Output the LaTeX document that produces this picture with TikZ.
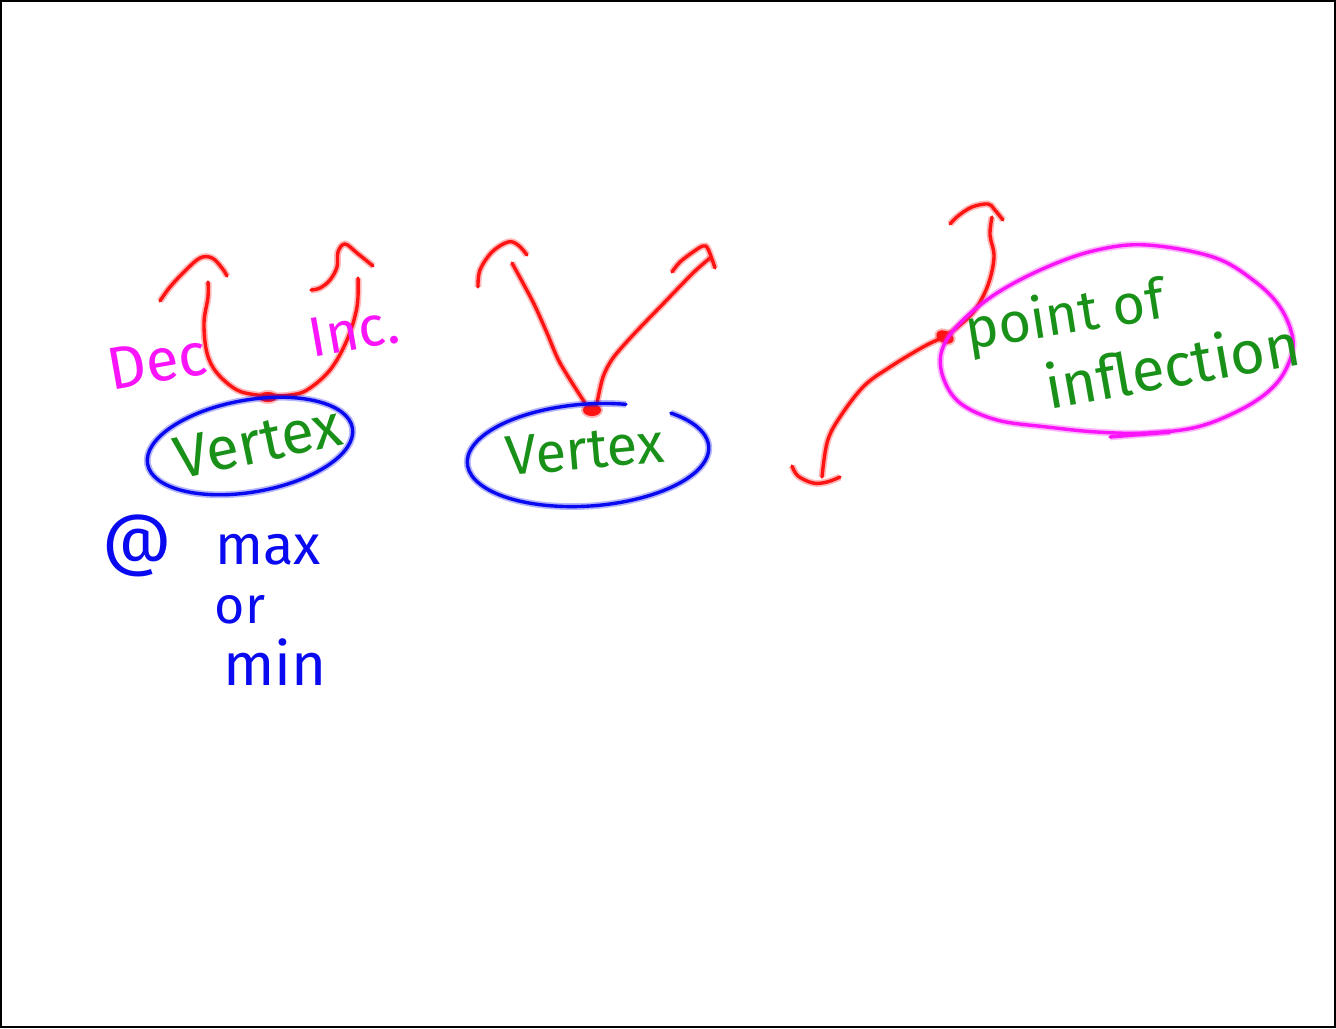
\documentclass[tikz,border=0pt]{standalone}
\usepackage{fontspec}
\setmainfont{Fira Sans}
\definecolor{penred}{RGB}{255,20,20}
\definecolor{penblue}{RGB}{10,10,240}
\definecolor{pengreen}{RGB}{25,145,25}
\definecolor{penmag}{RGB}{250,20,250}
\tikzset{
  stroke/.style={draw=#1, line width=1.7pt, line cap=round, line join=round,
    preaction={draw=#1, line width=3.4pt, draw opacity=0.3}},
  blob/.style={fill=#1, preaction={fill=#1, draw=#1, line width=2pt, opacity=0.3}},
  hand/.style={inner sep=0pt, font=\fontsize{#1}{#1}\selectfont},
  hand/.default=28,
}
\begin{document}
\begin{tikzpicture}[x=0.5pt,y=-0.5pt]
\useasboundingbox (0,0) rectangle (1336,1028);
\draw[line width=1pt] (1,1) rectangle (1335,1027);

% ---- U parabola ----
\path[stroke=penred] plot[smooth, tension=0.6] coordinates {(208,282) (208,297) (204,323) (207,353) (217,373) (237,390) (257,395) (270,396)};
\path[stroke=penred] plot[smooth, tension=0.6] coordinates {(272,396) (290,395) (307,390) (330,370) (347,340) (357,307) (358,278)};
\path[stroke=penred] plot[smooth, tension=0.6] coordinates {(160,301) (170,287) (185,271) (200,258) (212,258) (222,268) (227,276)};
\path[stroke=penred] plot[smooth, tension=0.6] coordinates {(311,290) (320,288) (330,280) (337,267) (338,252) (345,244) (357,253) (373,266)};
\path[blob=penred] (268,397) ellipse [x radius=9, y radius=5];
\path[stroke=penblue, rotate around={10:(250,446)}] (250,446) ellipse [x radius=104, y radius=46];
\node[hand=30, pengreen, rotate=12] (v1) at (258,442) {Vertex};
\node[hand=30, penmag, rotate=10] (dec) at (157,362) {Dec};
\node[hand=28, penmag, rotate=10] (inc) at (354,331) {Inc.};

% ---- V ----
\path[stroke=penred] plot[smooth, tension=0.5] coordinates {(512,263) (533,302) (547,333) (560,363) (585,403)};
\path[stroke=penred] plot[smooth, tension=0.5] coordinates {(597,403) (603,377) (613,358) (633,335) (660,307) (693,273) (710,258)};
\path[stroke=penred] plot[smooth, tension=0.6] coordinates {(478,287) (480,270) (492,252) (508,242) (518,245) (527,255)};
\path[stroke=penred] plot[smooth, tension=0.6] coordinates {(672,272) (680,262) (693,252) (703,246) (708,249) (715,268)};
\path[blob=penred] (592,410) ellipse [x radius=9, y radius=6];
\path[stroke=penblue, rotate around={4:(588,455)}] (629.4,407.1) arc [start angle=-70, end angle=-405, x radius=121, y radius=51];
\node[hand=28, pengreen, rotate=5] (v2) at (585,450) {Vertex};

% ---- inflection ----
\path[stroke=penred] plot[smooth, tension=0.6] coordinates {(992,217) (990,235) (994,257) (988,285) (975,310) (960,325) (945,336) (923,347) (890,367) (863,387) (838,420) (827,443) (822,477)};
\path[stroke=penred] plot[smooth, tension=0.6] coordinates {(950,224) (958,216) (972,207) (988,204) (994,209) (1003,220)};
\path[stroke=penred] plot[smooth, tension=0.6] coordinates {(792,466) (798,476) (813,483) (827,482) (840,477)};
\path[blob=penred, rotate around={-25:(945,337)}] (945,337) ellipse [x radius=9, y radius=6];
\path[stroke=penmag] plot[smooth cycle, tension=0.6] coordinates {(1147,245) (1213,257) (1253,280) (1280,307) (1293,340) (1287,367) (1270,390) (1240,410) (1197,427) (1147,433) (1097,432) (1047,427) (997,420) (960,403) (943,377) (942,350) (960,323) (997,293) (1047,267) (1097,250)};
\path[stroke=penmag] (1110,437) -- (1170,432);
\node[hand=28, pengreen, rotate=9] (pt) at (1065,318) {point of};
\node[hand=30, pengreen, rotate=10] (infl) at (1172,364) {inflection};

% ---- @ max or min ----
\node[hand=34, penblue] (at) at (137,546) {@};
\node[hand=28, penblue] (max) at (268,550) {max};
\node[hand=26, penblue] (or) at (240,610) {or};
\node[hand=30, penblue] (min) at (275,662) {min};
\end{tikzpicture}
\end{document}
